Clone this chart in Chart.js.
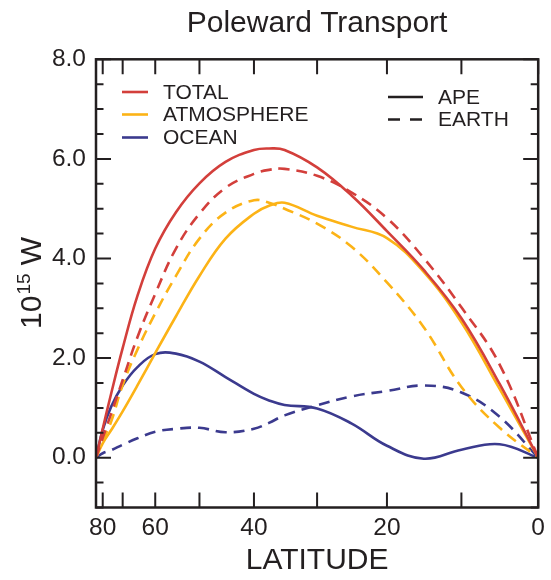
<!DOCTYPE html>
<html>
<head>
<meta charset="utf-8">
<script src="https://cdn.jsdelivr.net/npm/chart.js@4"></script>
<style>
  body { margin: 0; background: #fff; }
  canvas { display: block; }
</style>
</head>
<body>
<canvas id="transportChart" width="551" height="580"></canvas>
<script>
// latitude in degrees; x axis is sin(latitude)
const latitudes   = [90, 80, 75, 70, 65, 60, 55, 50, 45, 40, 37.5, 35, 30, 25, 20, 15, 10, 5, 0];
const apeTotal    = [0, 0.58, 1.28, 2.2, 3.25, 4.2, 4.93, 5.51, 5.94, 6.18, 6.21, 6.18, 5.83, 5.27, 4.55, 3.77, 2.8, 1.48, 0];
const earthTotal  = [0, 0.4, 0.88, 1.56, 2.42, 3.29, 4.2, 4.9, 5.42, 5.7, 5.78, 5.8, 5.66, 5.33, 4.81, 4.01, 3.02, 1.87, 0];
const apeAtmos    = [0, 0.29, 0.55, 0.93, 1.45, 2.1, 2.84, 3.65, 4.4, 4.9, 5.06, 5.12, 4.86, 4.64, 4.41, 3.73, 2.72, 1.38, 0];
const earthAtmos  = [0, 0.34, 0.72, 1.46, 2.17, 2.9, 3.65, 4.4, 4.92, 5.17, 5.12, 5.0, 4.7, 4.24, 3.52, 2.62, 1.42, 0.6, 0];
const apeOcean    = [0, 0.56, 1.02, 1.45, 1.82, 2.08, 2.09, 1.93, 1.62, 1.28, 1.15, 1.06, 0.99, 0.69, 0.24, -0.02, 0.16, 0.27, 0];
const earthOcean  = [0, 0.09, 0.15, 0.26, 0.39, 0.52, 0.58, 0.6, 0.51, 0.58, 0.7, 0.85, 1.05, 1.23, 1.34, 1.45, 1.31, 0.82, 0];

const xTickLats  = [80, 70, 60, 50, 40, 30, 20, 10, 0];
const xLabelLats = [80, 60, 40, 20, 0];

const RED = "#d33f3b", YELLOW = "#fcb316", BLUE = "#3b3a8e", INK = "#231f20";
const FONT = "'Liberation Sans', Arial, Helvetica, sans-serif";

const toRad = d => d * Math.PI / 180;
const points = vals => latitudes.map((lat, i) => ({ x: Math.sin(toRad(lat)), y: vals[i] }));

function line(label, vals, color, dashed) {
    return {
        label: label,
        data: points(vals),
        borderColor: color,
        borderWidth: 2.6,
        borderDash: dashed ? [11, 7] : [],
        pointRadius: 0,
        fill: false,
        tension: 0.4
    };
}

const framePlugin = {
    id: "frame",
    afterDraw(chart) {
        const ctx = chart.ctx;
        const a = chart.chartArea;
        const x = chart.scales.x, y = chart.scales.y;
        ctx.save();
        ctx.strokeStyle = INK;
        ctx.lineWidth = 2;

        // inward ticks, mirrored on all sides
        ctx.beginPath();
        y.ticks.forEach(t => {
            const py = y.getPixelForValue(t.value);
            const len = (t.value % 2 === 0) ? 15 : 7.5;
            ctx.moveTo(a.left, py); ctx.lineTo(a.left + len, py);
            ctx.moveTo(a.right, py); ctx.lineTo(a.right - len, py);
        });
        xTickLats.forEach(lat => {
            const px = x.getPixelForValue(Math.sin(toRad(lat)));
            ctx.moveTo(px, a.bottom); ctx.lineTo(px, a.bottom - 15);
            ctx.moveTo(px, a.top); ctx.lineTo(px, a.top + 15);
        });
        ctx.stroke();

        ctx.lineWidth = 2.5;
        ctx.strokeRect(a.left, a.top, a.right - a.left, a.bottom - a.top);

        // titles
        ctx.fillStyle = INK;
        ctx.textAlign = "center";
        ctx.textBaseline = "alphabetic";
        ctx.font = "30px " + FONT;
        ctx.fillText("Poleward Transport", (a.left + a.right) / 2, 32);
        ctx.fillText("LATITUDE", (a.left + a.right) / 2, 569);

        // y title with superscript
        ctx.save();
        ctx.translate(41, (a.top + a.bottom) / 2);
        ctx.rotate(-Math.PI / 2);
        ctx.textAlign = "left";
        ctx.font = "30px " + FONT;
        const w10 = ctx.measureText("10").width;
        const wW = ctx.measureText(" W").width;
        ctx.font = "19px " + FONT;
        const w15 = ctx.measureText("15").width;
        const sx = -(w10 + w15 + wW) / 2;
        ctx.font = "30px " + FONT;
        ctx.fillText("10", sx, 0);
        ctx.font = "19px " + FONT;
        ctx.fillText("15", sx + w10 + 1, -11);
        ctx.font = "30px " + FONT;
        ctx.fillText(" W", sx + w10 + w15 + 1, 0);
        ctx.restore();

        // colour legend
        ctx.lineWidth = 2.6;
        ctx.textAlign = "left";
        ctx.textBaseline = "middle";
        ctx.font = "21px " + FONT;
        [["TOTAL", RED, 92], ["ATMOSPHERE", YELLOW, 114.5], ["OCEAN", BLUE, 137.5]].forEach(([txt, col, ly]) => {
            ctx.strokeStyle = col;
            ctx.beginPath(); ctx.moveTo(122, ly); ctx.lineTo(148, ly); ctx.stroke();
            ctx.fillText(txt, 163, ly + 1);
        });

        // line style legend
        ctx.strokeStyle = INK;
        [["APE", [], 97], ["EARTH", [12, 10], 119.5]].forEach(([txt, dash, ly]) => {
            ctx.setLineDash(dash);
            ctx.beginPath(); ctx.moveTo(388, ly); ctx.lineTo(423, ly); ctx.stroke();
            ctx.fillText(txt, 438, ly + 1);
        });
        ctx.restore();
    }
};

new Chart(document.getElementById("transportChart").getContext("2d"), {
    type: "line",
    data: {
        datasets: [
            line("EARTH TOTAL", earthTotal, RED, true),
            line("APE TOTAL", apeTotal, RED, false),
            line("APE ATMOSPHERE", apeAtmos, YELLOW, false),
            line("EARTH ATMOSPHERE", earthAtmos, YELLOW, true),
            line("EARTH OCEAN", earthOcean, BLUE, true),
            line("APE OCEAN", apeOcean, BLUE, false)
        ]
    },
    options: {
        responsive: false,
        animation: false,
        layout: { padding: { top: 59.3, right: 10, left: 0, bottom: 0 } },
        plugins: { legend: { display: false }, tooltip: { enabled: false } },
        scales: {
            x: {
                type: "linear",
                reverse: true,
                min: 0,
                max: 1,
                grid: { display: false, drawTicks: false },
                border: { display: false },
                afterBuildTicks: scale => {
                    scale.ticks = xTickLats.map(lat => ({ value: Math.sin(toRad(lat)) }));
                },
                afterFit: scale => { scale.height = 72.5; },
                ticks: {
                    autoSkip: false,
                    maxRotation: 0,
                    padding: 6,
                    color: INK,
                    font: { family: FONT, size: 24.5 },
                    callback: value => {
                        const lat = Math.round(Math.asin(value) * 180 / Math.PI);
                        return xLabelLats.includes(lat) ? String(lat) : "";
                    }
                }
            },
            y: {
                min: -1,
                max: 8,
                grid: { display: false, drawTicks: false },
                border: { display: false },
                afterFit: scale => { scale.width = 96; },
                ticks: {
                    stepSize: 0.5,
                    autoSkip: false,
                    padding: 10,
                    color: INK,
                    font: { family: FONT, size: 24.5 },
                    callback: value => (value >= 0 && value % 2 === 0) ? value.toFixed(1) : ""
                }
            }
        }
    },
    plugins: [framePlugin]
});
</script>
</body>
</html>
